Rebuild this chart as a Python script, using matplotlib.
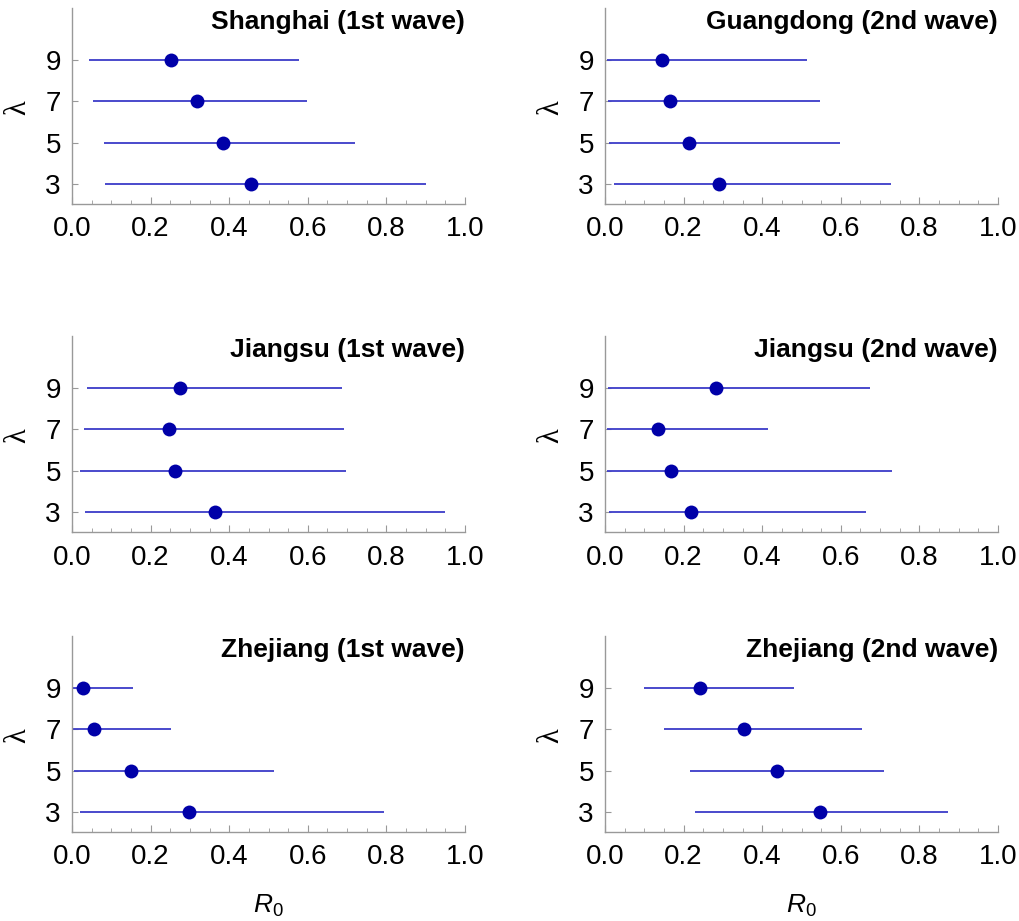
import matplotlib
matplotlib.use("Agg")
import matplotlib.pyplot as plt
from matplotlib.ticker import MultipleLocator

plt.rcParams['font.family'] = ['Liberation Sans', 'DejaVu Sans']
plt.rcParams['mathtext.fontset'] = 'custom'
plt.rcParams['mathtext.it'] = 'Liberation Sans:italic'
plt.rcParams['mathtext.rm'] = 'Liberation Sans'

lam = [9, 7, 5, 3]

titles = ["Shanghai (1st wave)", "Guangdong (2nd wave)",
          "Jiangsu (1st wave)", "Jiangsu (2nd wave)",
          "Zhejiang (1st wave)", "Zhejiang (2nd wave)"]

# R0 point estimates and interval ends, for lambda = 9, 7, 5, 3
sh1_mid = [0.253, 0.317, 0.384, 0.455]
sh1_lo = [0.043, 0.054, 0.082, 0.083]
sh1_hi = [0.577, 0.598, 0.719, 0.901]

gd2_mid = [0.145, 0.166, 0.213, 0.291]
gd2_lo = [0.004, 0.007, 0.010, 0.023]
gd2_hi = [0.514, 0.548, 0.597, 0.728]

js1_mid = [0.274, 0.246, 0.263, 0.365]
js1_lo = [0.037, 0.031, 0.021, 0.032]
js1_hi = [0.687, 0.693, 0.696, 0.949]

js2_mid = [0.283, 0.135, 0.169, 0.218]
js2_lo = [0.008, 0.004, 0.004, 0.010]
js2_hi = [0.674, 0.415, 0.731, 0.664]

zj1_mid = [0.028, 0.057, 0.151, 0.298]
zj1_lo = [0.000, 0.000, 0.004, 0.020]
zj1_hi = [0.156, 0.251, 0.514, 0.793]

zj2_mid = [0.242, 0.353, 0.438, 0.546]
zj2_lo = [0.099, 0.149, 0.217, 0.229]
zj2_hi = [0.482, 0.653, 0.709, 0.873]

panels = [(sh1_mid, sh1_lo, sh1_hi), (gd2_mid, gd2_lo, gd2_hi),
          (js1_mid, js1_lo, js1_hi), (js2_mid, js2_lo, js2_hi),
          (zj1_mid, zj1_lo, zj1_hi), (zj2_mid, zj2_lo, zj2_hi)]

W, H = 1019, 921
fig = plt.figure(figsize=(W / 100, H / 100), dpi=100)

# axes placement in pixels
lefts = [72, 605]
bottoms = [204, 532, 832]
aw, ah = 393, 196

for i, (mid, lo, hi) in enumerate(panels):
    row, col = divmod(i, 2)
    ax = fig.add_axes([lefts[col] / W, 1 - bottoms[row] / H, aw / W, ah / H])
    ax.hlines(lam, lo, hi, color='#3c3cc8', lw=1.3)
    ax.plot(mid, lam, 'o', color='#0000a8', ms=10, mec='none')
    ax.set_xlim(0, 1)
    ax.set_ylim(2.03, 11.5)
    ax.set_yticks(lam)
    ax.xaxis.set_major_locator(MultipleLocator(0.2))
    ax.xaxis.set_minor_locator(MultipleLocator(0.05))
    ax.set_xticklabels([f"{v:.1f}" for v in ax.get_xticks()])
    for s in ['top', 'right']:
        ax.spines[s].set_visible(False)
    for s in ['left', 'bottom']:
        ax.spines[s].set_color('#999999')
        ax.spines[s].set_linewidth(1.0)
    ax.tick_params(axis='x', which='major', direction='in', length=5, color='#999999',
                   labelsize=20, pad=9)
    ax.tick_params(axis='x', which='minor', direction='in', length=3, color='#999999')
    ax.tick_params(axis='y', direction='in', length=4, color='#999999', labelsize=20, pad=8)
    ax.text(1.0, 0.93, titles[i], transform=ax.transAxes, ha='right', va='center',
            fontsize=19, fontweight='bold')
    ax.set_ylabel('λ', family='Liberation Serif', fontsize=22)
    ax.yaxis.set_label_coords(-40 / aw, 0.49)
    if row == 2:
        ax.set_xlabel('$R_0$', fontsize=19, labelpad=16)

fig.savefig('out.png', dpi=100)
